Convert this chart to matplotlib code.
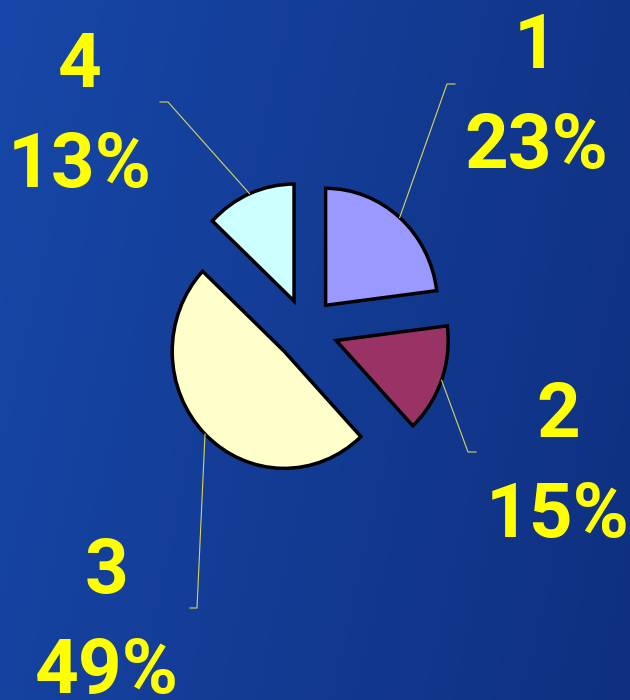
import numpy as np
import matplotlib.pyplot as plt
from matplotlib.colors import LinearSegmentedColormap

# slice data, clockwise from 12 o'clock
labels = ['1', '2', '3', '4']
shares = [23, 15, 49, 13]
colors = ['#9999ff', '#993366', '#ffffcc', '#ccffff']
explode = [0.27, 0.29, 0.27, 0.26]

# label placement in image pixels (x centre, baseline of the number line)
label_pos = [(536, 68), (558, 437), (107, 593), (80, 87)]
# leader elbow (pixels) and the short horizontal tail length
elbow_pos = [(447, 84), (468, 452), (197, 608), (168, 102)]
tail_len = [8, 8, -7, -8]

W, H = 630, 700
fig = plt.figure(figsize=(W / 100, H / 100), dpi=100)

# blue gradient background, lighter on the left
bg = fig.add_axes([0, 0, 1, 1])
bg.axis('off')
xx, yy = np.meshgrid(np.linspace(0, 1, 300), np.linspace(0, 1, 300))
grad = 0.8 * xx + 0.2 * yy
cmap = LinearSegmentedColormap.from_list('bg', ['#1747a8', '#0f3080'])
bg.imshow(grad, aspect='auto', cmap=cmap, extent=[0, 1, 0, 1], origin='upper')

ax = fig.add_axes([0, 0, 1, 1])
ax.patch.set_alpha(0)
wedges, _ = ax.pie(shares, colors=colors, explode=explode, startangle=90,
                   counterclock=False,
                   wedgeprops=dict(edgecolor='black', linewidth=2.5))
ax.set_aspect('auto')
cx, cy, rx, ry = 305.6, 371, 112, 117   # pie centre (px from bottom) and radii
ax.set_xlim(-cx / rx, (W - cx) / rx)
ax.set_ylim(-cy / ry, (H - cy) / ry)
ax.axis('off')

font = dict(fontsize=55, fontweight='bold', family='Roboto', color='#ffff00',
            ha='center', va='baseline')

to_data = ax.transData.inverted()
for w, lab, s, (lx, ly), (ex, ey), t in zip(wedges, labels, shares,
                                          label_pos, elbow_pos, tail_len):
    mid = np.deg2rad((w.theta1 + w.theta2) / 2)
    px = w.center[0] + w.r * np.cos(mid)
    py = w.center[1] + w.r * np.sin(mid)
    e1 = to_data.transform((ex, H - ey))
    e2 = to_data.transform((ex + t, H - ey))
    ax.plot([px, e1[0], e2[0]], [py, e1[1], e2[1]], color='#d6d65a', lw=0.8)
    fig.text(lx / W, 1 - ly / H, lab, **font)
    fig.text(lx / W, 1 - (ly + 100) / H, f'{s}%', **font)

fig.savefig('out.png', dpi=100)
